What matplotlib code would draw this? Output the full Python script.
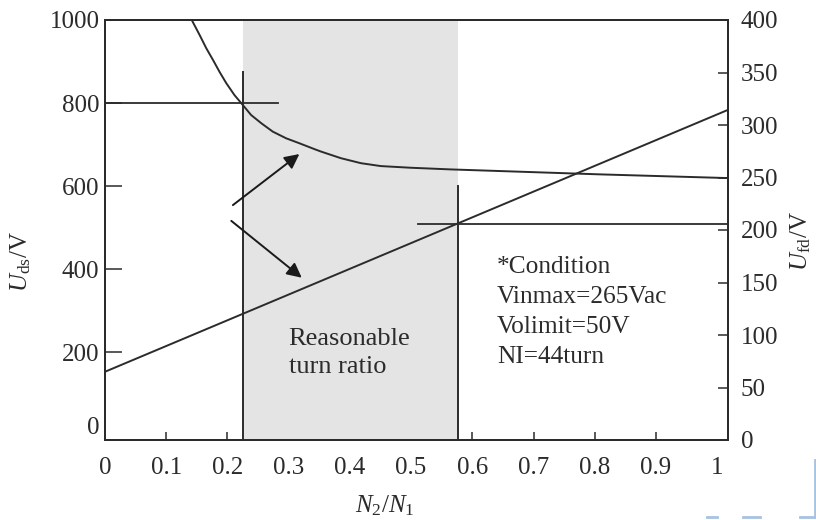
import matplotlib
matplotlib.use("Agg")
import matplotlib.pyplot as plt
from matplotlib.lines import Line2D
from matplotlib.transforms import ScaledTranslation

plt.rcParams['font.family'] = ['Liberation Serif', 'DejaVu Serif']
plt.rcParams['mathtext.fontset'] = 'custom'
plt.rcParams['mathtext.rm'] = 'Liberation Serif'
plt.rcParams['mathtext.it'] = 'Liberation Serif:italic'

# ---- data ----
ratio_uds = [0.1417, 0.1545, 0.1654, 0.1763, 0.1871, 0.1980, 0.2115, 0.2252, 0.2387,
             0.2555, 0.2741, 0.2958, 0.3175, 0.3419, 0.3528, 0.3854, 0.4180, 0.4506,
             0.4995, 0.5647, 0.6462, 0.7277, 0.8092, 1.02]
uds = [1000, 964, 932, 904, 875, 848, 819, 795, 771,
       751, 731, 715, 703, 689, 683, 667, 655, 648,
       644, 640, 636, 632, 628, 619]
ratio_ufd = [0.0, 1.02]
ufd = [65, 315]

x_ticks = [0, 0.1, 0.2, 0.3, 0.4, 0.5, 0.6, 0.7, 0.8, 0.9, 1]
x_ticklabels = ['0', '0.1', '0.2', '0.3', '0.4', '0.5', '0.6', '0.7', '0.8', '0.9', '1']
left_ticks = [0, 200, 400, 600, 800, 1000]
right_ticks = [0, 50, 100, 150, 200, 250, 300, 350, 400]

ratio_low = 0.2257
ratio_high = 0.576
uds_limit = 800
ufd_limit = 206
cond_text = "*Condition\nVinmax=265Vac\nVolimit=50V\nNI=44turn"
zone_text = "Reasonable\nturn ratio"

ink = '#2b2b2b'
fs = 18

fig = plt.figure(figsize=(8.16, 5.2), dpi=100)
ax = fig.add_axes([105/816, 1-440/520, 623/816, 420/520])
ax2 = ax.twinx()

ax.set_xlim(0.0024, 1.0176)
ax.set_ylim(-12, 1000)
ax2.set_ylim(0, 400)

# shaded region
ax.axvspan(ratio_low, ratio_high, color='#e4e4e4', lw=0, zorder=0)

# curves
ax.plot(ratio_uds, uds, color=ink, lw=1.4, zorder=3, solid_joinstyle='round')
ax2.plot(ratio_ufd, ufd, color=ink, lw=1.4, zorder=3)

# marker lines
ax.plot([0, 0.283], [uds_limit, uds_limit], color=ink, lw=1.3)
ax.plot([ratio_low, ratio_low], [-12, 875], color=ink, lw=1.4)
ax.plot([ratio_high, ratio_high], [-12, 600], color=ink, lw=1.4)
ax2.plot([0.511, 1.02], [ufd_limit, ufd_limit], color=ink, lw=1.3)

# arrows
ap = dict(arrowstyle='-|>', color='#1a1a1a', lw=1.4, mutation_scale=22, shrinkA=0, shrinkB=0)
ax.annotate('', xy=(0.3175, 677), xytext=(0.2089, 554), arrowprops=ap)
ax.annotate('', xy=(0.3214, 379), xytext=(0.2063, 516), arrowprops=ap)

# texts
ax.text(0.300, 198, zone_text, fontsize=19, color=ink, va='center', ha='left', linespacing=1.38)
ax.text(0.640, 296, cond_text, fontsize=18.3, color=ink, va='center', ha='left', linespacing=1.48)

# ticks
ax.set_xticks(x_ticks)
ax.set_xticklabels(x_ticklabels)
ax.set_yticks(left_ticks)
ax.set_yticklabels([str(v) for v in left_ticks])
ax2.set_yticks(right_ticks)
ax2.set_yticklabels([str(v) for v in right_ticks])

ax.tick_params(axis='x', direction='in', length=6, width=1.1, pad=12, labelsize=fs, colors=ink, top=False)
ax.tick_params(axis='y', direction='in', length=12, width=1.1, pad=4, labelsize=fs, colors=ink)
ax2.tick_params(axis='y', direction='in', length=7, width=1.1, pad=9, labelsize=fs, colors=ink)

for t, v in zip(ax.xaxis.get_major_ticks(), x_ticks):
    if v in (0, 0.3, 0.4, 0.5, 1):
        t.tick1line.set_visible(False)
ytick0 = ax.yaxis.get_major_ticks()[0]
ytick0.tick1line.set_visible(False)
ytick0.label1.set_transform(ytick0.label1.get_transform() +
                            ScaledTranslation(0, 10/100, fig.dpi_scale_trans))

for a in (ax, ax2):
    for s in a.spines.values():
        s.set_color(ink)
        s.set_linewidth(1.4)

# axis labels
ax.set_ylabel(r'$\mathit{U}_{\mathrm{ds}}$/V', fontsize=fs, color=ink)
ax.yaxis.set_label_coords(-0.115, 0.424)
ax2.set_ylabel(r'$\mathit{U}_{\mathrm{fd}}$/V', fontsize=fs, color=ink)
ax2.yaxis.set_label_coords(1.097, 0.474)
ax.set_xlabel(r'$\mathit{N}_{2}$/$\mathit{N}_{1}$', fontsize=fs, color=ink)
ax.xaxis.set_label_coords(0.449, -0.128)

# faint blue scan marks at bottom-right corner
blue = '#a8c2e2'
for seg in [((707/816, 717/816), (3/520, 3/520)), ((743/816, 760/816), (3/520, 3/520)),
            ((800/816, 815/816), (3/520, 3/520)), ((815/816, 815/816), (3/520, 60/520))]:
    fig.add_artist(Line2D(seg[0], seg[1], color=blue, lw=2))

fig.savefig('out.png', dpi=100)
